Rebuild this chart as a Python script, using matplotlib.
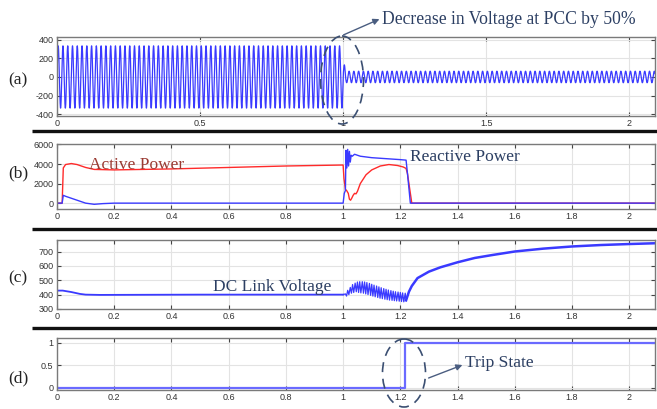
import numpy as np
import matplotlib.pyplot as plt
from matplotlib.patches import Ellipse

plt.rcParams['axes.unicode_minus'] = False

# ---- data ----
# (a) voltage at PCC: 60 Hz wave, amplitude before / after the sag at t=1 s
freq_hz = 60
t_sag = 1.0
amp_before = 335
amp_first_peak = 130
amp_after = 62

# (b) active power (red) and reactive power (blue)
p_t = [0, 0.018, 0.022, 0.03, 0.05, 0.07, 0.1, 0.13, 0.2, 0.4, 0.6, 0.8, 1.0,
       1.003, 1.008, 1.012, 1.018, 1.022, 1.026, 1.03, 1.035, 1.04, 1.045, 1.05,
       1.06, 1.08, 1.1, 1.13, 1.16, 1.19, 1.21, 1.22, 1.225, 1.235, 1.24, 2.1]
p_val = [0, 0, 3600, 3950, 4050, 3950, 3650, 3450, 3400, 3500, 3650, 3800, 3900,
         2500, 1400, 1300, 1000, 400, 300, 500, 800, 1000, 950, 1200,
         2000, 2900, 3400, 3800, 3950, 3850, 3700, 3550, 3000, 1000, 0, 0]
q_t = [0, 0.018, 0.022, 0.03, 0.05, 0.08, 0.1, 0.13, 0.16, 0.2, 1.0, 1.004, 1.008,
       1.01, 1.013, 1.016, 1.019, 1.022, 1.025, 1.028, 1.032, 1.04, 1.06, 1.1,
       1.15, 1.2, 1.22, 1.225, 1.23, 1.235, 2.1]
q_val = [0, 0, 800, 700, 500, 200, 0, -120, -50, 0, 0, 1000, 1300,
         5400, 3600, 5500, 3800, 5300, 4200, 4900, 4800, 5000, 4800, 4650,
         4550, 4450, 4400, 3000, 1500, 0, 0]

# (c) DC link voltage
dc_t_pre = [0, 0.02, 0.05, 0.08, 0.1, 0.15, 0.5, 1.0]
dc_v_pre = [428, 428, 418, 405, 400, 398, 400, 400]
dc_t_sag = [1.0, 1.008, 1.012, 1.016, 1.02, 1.025, 1.029, 1.033, 1.037, 1.042,
            1.046, 1.05, 1.054, 1.058, 1.062, 1.067, 1.071, 1.075, 1.079, 1.083,
            1.087, 1.092, 1.096, 1.1, 1.104, 1.108, 1.112, 1.117, 1.121, 1.125,
            1.129, 1.133, 1.137, 1.142, 1.146, 1.15, 1.154, 1.158, 1.162, 1.167,
            1.171, 1.175, 1.179, 1.183, 1.187, 1.192, 1.196, 1.2, 1.204, 1.208,
            1.212, 1.217, 1.22]
dc_v_sag = [400, 405, 390, 430, 400, 450, 410, 470, 415, 480,
            420, 488, 415, 490, 412, 490, 410, 488, 405, 484,
            400, 478, 395, 472, 390, 466, 385, 460, 380, 454,
            375, 448, 372, 442, 368, 437, 365, 432, 362, 428,
            360, 424, 358, 420, 356, 418, 354, 415, 352, 412,
            350, 410, 360]
dc_t_post = [1.22, 1.23, 1.24, 1.26, 1.3, 1.34, 1.4, 1.46, 1.52, 1.6, 1.7, 1.8, 1.9, 2.0, 2.1]
dc_v_post = [360, 420, 460, 515, 560, 590, 625, 655, 675, 700, 720, 735, 745, 752, 758]

# (d) trip state
trip_t = [0, 1.215, 1.215, 2.1]
trip_val = [0, 0, 1, 1]

xticks_a = [0, 0.5, 1, 1.5, 2]
xticklabels_a = ['0', '0.5', '1', '1.5', '2']
xticks_b = [0, 0.2, 0.4, 0.6, 0.8, 1, 1.2, 1.4, 1.6, 1.8, 2]
xticklabels_b = ['0', '0.2', '0.4', '0.6', '0.8', '1', '1.2', '1.4', '1.6', '1.8', '2']

W, H = 657, 409
fig = plt.figure(figsize=(W / 100, H / 100), dpi=100)
fig.patch.set_facecolor('white')


def add_panel(left, top, right, bottom):
    ax = fig.add_axes([left / W, 1 - bottom / H, (right - left) / W, (bottom - top) / H])
    ax.set_xlim(0, 2.09)
    ax.grid(True, color='#e3e3e3', lw=0.8)
    ax.set_axisbelow(True)
    ax.tick_params(direction='in', length=3, width=0.8, top=True, right=True,
                   labelsize=6.5, labelcolor='#333333', color='#444444', pad=2.5)
    for sp in ax.spines.values():
        sp.set_color('#7a7a7a')
        sp.set_linewidth(1.0)
    return ax


def sans_ticks(ax):
    for lab in ax.get_xticklabels() + ax.get_yticklabels():
        lab.set_fontfamily('Liberation Sans')


blue = '#3a3aff'
red = '#ff2a2a'

# (a)
ax_a = add_panel(57, 37, 655, 116)
t = np.linspace(0, 2.1, 20000)
amp = np.where(t < t_sag, amp_before,
               np.where(t < t_sag + 0.5 / freq_hz, amp_first_peak, amp_after))
ax_a.plot(t, amp * np.sin(2 * np.pi * freq_hz * t), color=blue, lw=0.9)
ax_a.set_ylim(-420, 430)
ax_a.set_yticks([-400, -200, 0, 200, 400])
ax_a.set_xticks(xticks_a)
ax_a.set_xticklabels(xticklabels_a)
sans_ticks(ax_a)

# (b)
ax_b = add_panel(57, 144, 655, 209)
ax_b.plot(p_t, p_val, color=red, lw=1.0)
ax_b.plot(q_t, q_val, color=blue, lw=1.0)
ax_b.set_ylim(-600, 6050)
ax_b.set_yticks([0, 2000, 4000, 6000])
ax_b.set_xticks(xticks_b)
ax_b.set_xticklabels(xticklabels_b)
sans_ticks(ax_b)

# (c)
ax_c = add_panel(57, 240, 655, 309)
ax_c.plot(dc_t_pre, dc_v_pre, color=blue, lw=1.3)
ax_c.plot(dc_t_sag, dc_v_sag, color=blue, lw=0.9)
ax_c.plot(dc_t_post, dc_v_post, color=blue, lw=1.8)
ax_c.set_ylim(300, 780)
ax_c.set_yticks([300, 400, 500, 600, 700])
ax_c.set_xticks(xticks_b)
ax_c.set_xticklabels(xticklabels_b)
sans_ticks(ax_c)

# (d)
ax_d = add_panel(57, 338, 655, 390)
ax_d.plot(trip_t, trip_val, color='#6a6aff', lw=1.6)
ax_d.set_ylim(-0.05, 1.11)
ax_d.set_yticks([0, 0.5, 1])
ax_d.set_yticklabels(['0', '0.5', '1'])
ax_d.set_xticks(xticks_b)
ax_d.set_xticklabels(xticklabels_b)
sans_ticks(ax_d)

# overlay in pixel coordinates for labels, separators and callouts
ov = fig.add_axes([0, 0, 1, 1], zorder=10)
ov.set_xlim(0, W)
ov.set_ylim(H, 0)
ov.axis('off')
ov.patch.set_alpha(0)

for y in (131, 229, 328):
    ov.plot([32, W], [y, y], color='#111111', lw=2.4, solid_capstyle='butt')

serif = 'Liberation Serif'
navy = '#2c3f63'
for lab, y in (('(a)', 80), ('(b)', 173), ('(c)', 278), ('(d)', 378)):
    ov.text(18, y, lab, fontsize=12.5, family=serif, color='#222222', ha='center', va='center')

ov.text(89, 165, 'Active Power', fontsize=12.5, family=serif, color='#9a3a32', va='center')
ov.text(410, 157, 'Reactive Power', fontsize=12.5, family=serif, color=navy, va='center')
ov.text(213, 287, 'DC Link Voltage', fontsize=12.5, family=serif, color=navy, va='center')
ov.text(465, 363, 'Trip State', fontsize=12.5, family=serif, color=navy, va='center')
ov.text(382, 19, 'Decrease in Voltage at PCC by 50%', fontsize=12.7, family=serif,
        color=navy, va='center')

ov.add_patch(Ellipse((342, 80), 43, 88, fill=False, ec='#3b4f72', lw=1.2, ls=(0, (6, 4))))
ov.add_patch(Ellipse((404, 373), 43, 68, fill=False, ec='#3b4f72', lw=1.2, ls=(0, (6, 4))))
ov.annotate('', xy=(382, 18), xytext=(341, 36),
            arrowprops=dict(arrowstyle='-|>', color='#4a5d80', lw=1.0, mutation_scale=9))
ov.annotate('', xy=(465, 364), xytext=(426, 379),
            arrowprops=dict(arrowstyle='-|>', color='#4a5d80', lw=1.0, mutation_scale=9))

fig.savefig('out.png', dpi=100)
